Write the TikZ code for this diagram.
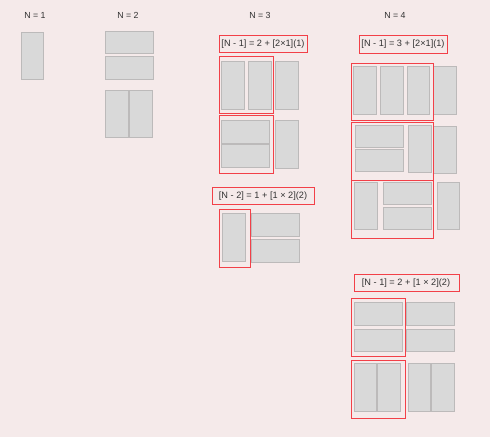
\documentclass[tikz,border=0pt]{standalone}
\usepackage{fontspec}
\setmainfont{Liberation Sans}
\definecolor{bg}{RGB}{245,234,234}
\definecolor{cellfill}{RGB}{217,217,217}
\definecolor{celledge}{RGB}{188,186,186}
\definecolor{redline}{RGB}{242,64,72}
\definecolor{txt}{RGB}{50,50,50}
\tikzset{
  cell/.style={fill=cellfill, draw=celledge, line width=0.7pt},
  redbox/.style={draw=redline, line width=1pt},
  labelbox/.style={draw=redline, line width=1pt},
  hdr/.style={font=\fontsize{8.8}{10}\selectfont, text=txt, inner sep=0pt},
  lbl/.style={font=\fontsize{9.2}{10}\selectfont, text=txt, inner sep=0pt}
}
\begin{document}
\begin{tikzpicture}[x=1pt,y=-1pt]
\useasboundingbox[fill=bg] (0,0) rectangle (490,437);
% headers
\node[hdr] (h1) at (35,15.5) {N = 1};
\node[hdr] (h2) at (128,15.5) {N = 2};
\node[hdr] (h3) at (260,15.5) {N = 3};
\node[hdr] (h4) at (395,15.5) {N = 4};
% N = 1
\draw[cell] (21,32) rectangle (43,79);
% N = 2
\draw[cell] (105,31) rectangle (153,53);
\draw[cell] (105,56) rectangle (153,79);
\draw[cell] (105,90) rectangle (128,137);
\draw[cell] (129,90) rectangle (152,137);
% N = 3
\draw[labelbox] (219,35) rectangle (307,52);
\node[lbl] (l31) at (263,44) {[N - 1] = 2 + [2×1](1)};
\draw[cell] (221,61) rectangle (244,109);
\draw[cell] (248,61) rectangle (271,109);
\draw[cell] (275,61) rectangle (298,109);
\draw[redbox] (219,56) rectangle (273,113);
\draw[cell] (221,120) rectangle (269,143);
\draw[cell] (221,144) rectangle (269,167);
\draw[cell] (275,120) rectangle (298,168);
\draw[redbox] (219,115) rectangle (273,173);
\draw[labelbox] (212,187) rectangle (314,204);
\node[lbl] (l32) at (263,196) {[N - 2] = 1 + [1 × 2](2)};
\draw[cell] (222,213) rectangle (245,261);
\draw[cell] (251,213) rectangle (299,236);
\draw[cell] (251,239) rectangle (299,262);
\draw[redbox] (219,209) rectangle (250,267);
% N = 4
\draw[labelbox] (359,35) rectangle (447,53);
\node[lbl] (l41) at (403,44.5) {[N - 1] = 3 + [2×1](1)};
\draw[cell] (353,66) rectangle (376,114);
\draw[cell] (380,66) rectangle (403,114);
\draw[cell] (407,66) rectangle (429,114);
\draw[cell] (433,66) rectangle (456,114);
\draw[redbox] (351,63) rectangle (433,120);
\draw[cell] (355,125) rectangle (403,147);
\draw[cell] (355,149) rectangle (403,171);
\draw[cell] (408,125) rectangle (431,172);
\draw[cell] (433,126) rectangle (456,173);
\draw[redbox] (351,122) rectangle (433,180);
\draw[cell] (354,182) rectangle (377,229);
\draw[cell] (383,182) rectangle (431,204);
\draw[cell] (383,207) rectangle (431,229);
\draw[cell] (437,182) rectangle (459,229);
\draw[redbox] (351,180) rectangle (433,238);
\draw[labelbox] (354,274) rectangle (459,291);
\node[lbl] (l42) at (406,283) {[N - 1] = 2 + [1 × 2](2)};
\draw[cell] (354,302) rectangle (402,325);
\draw[cell] (354,329) rectangle (402,351);
\draw[cell] (406,302) rectangle (454,325);
\draw[cell] (406,329) rectangle (454,351);
\draw[redbox] (351,298) rectangle (405,356);
\draw[cell] (354,363) rectangle (376,411);
\draw[cell] (377,363) rectangle (400,411);
\draw[cell] (408,363) rectangle (430,411);
\draw[cell] (431,363) rectangle (454,411);
\draw[redbox] (351,360) rectangle (405,418);
\end{tikzpicture}
\end{document}
